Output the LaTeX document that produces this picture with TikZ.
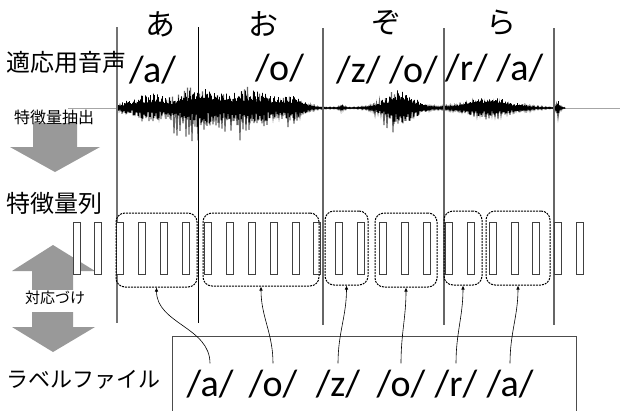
\documentclass[tikz,border=0pt]{standalone}
\usepackage{fontspec}
\setmainfont{Carlito}
\newfontfamily\jp{Noto Sans CJK JP}
\usetikzlibrary{arrows.meta}
\tikzset{
  vline/.style={draw=black!60, line width=1.2pt},
  feat/.style={draw=black!75, fill=white, line width=1pt, minimum width=7pt, minimum height=52pt, inner sep=0pt},
  grp/.style={draw=black, dash pattern=on 2pt off 1pt, line width=1pt, rounded corners=9pt, inner sep=0pt},
  bigarrow/.style={fill=black!40, draw=none},
  ph/.style={font=\fontsize{38}{38}\selectfont, inner sep=0pt, anchor=base west},
  lab/.style={font=\fontsize{38}{38}\selectfont, inner xsep=0pt, inner ysep=6pt, anchor=base},
  kana/.style={font=\jp\fontsize{30}{30}\selectfont, inner sep=0pt},
  jlab/.style={font=\jp\fontsize{#1}{#1}\selectfont, inner sep=0pt, anchor=west},
  link/.style={draw=black, line width=0.6pt, -{Latex[length=4pt,width=3.5pt]}},
  declare function={cl(\d)=min(3.5,max(-3.5,\d));
                    g(\t,\c,\w)=exp(-cl((\t-\c)/\w)*cl((\t-\c)/\w));
                    core(\t)=0.8+4*g(\t,125,6)+15*g(\t,150,20)+20*g(\t,197,22)+18*g(\t,250,35)+9*g(\t,295,12)+3*g(\t,342,3)+18*g(\t,400,20)+11*g(\t,490,30)+8*g(\t,558,2.5);
                    spk(\t)=9*g(\t,150,22)+36*g(\t,187,16)+28*g(\t,240,32)+15*g(\t,290,12)+21*g(\t,395,18)+11*g(\t,485,28)+12*g(\t,557,2);
                    pls(\t)=0.5+0.5*sin(45*mod(\t,4));}
}
\begin{document}
\begin{tikzpicture}[x=1pt,y=-1pt]
\useasboundingbox[fill=white] (0,0) rectangle (621,410);

% waveform baseline
\draw[black!35, line width=0.8pt] (68,108) -- (620,108);
% waveform spikes and core
\draw[black!60, line width=1pt] plot[domain=117:565.5, samples=300] (\x, {108+spk(\x)*(0.3+0.7*rnd)*cos(120*mod(\x-117,3))*(1+0.2*cos(120*mod(\x-117,3)))});
\draw[black, line width=0.6pt] plot[domain=117:565, samples=897] (\x, {108+core(\x)*pls(\x)*(0.5+0.5*rnd)*cos(360*mod(\x-117,1))});

% segment lines
\draw[vline, draw=black!55] (117,27) -- (117,323);
\draw[draw=black, line width=0.8pt] (198,27) -- (198,323);
\draw[vline] (323,28) -- (323,325);
\draw[vline] (444,28) -- (444,325);
\draw[vline] (554,28) -- (554,325);

% big gray arrows
\fill[bigarrow] (33,123) -- (77,123) -- (77,147) -- (100,147) -- (55,172) -- (10,147) -- (33,147) -- cycle;
\fill[bigarrow] (32,290) -- (73,290) -- (73,271) -- (95,271) -- (53,245) -- (12,271) -- (32,271) -- cycle;
\fill[bigarrow] (32,312) -- (73,312) -- (73,327) -- (95,327) -- (53,352) -- (12,327) -- (32,327) -- cycle;

% feature frames
\foreach \i in {0,...,23} {
  \node[feat] (f\i) at ({76.5+21.9*\i},248) {};
}

% groups
\node[grp, minimum width=81pt, minimum height=74pt] (g1) at (156.5,250) {};
\node[grp, minimum width=116pt, minimum height=73pt] (g2) at (261,249.5) {};
\node[grp, minimum width=43pt, minimum height=74pt] (g3) at (346.5,248) {};
\node[grp, minimum width=62pt, minimum height=74pt] (g4) at (406,250) {};
\node[grp, minimum width=38pt, minimum height=74pt] (g5) at (463,248) {};
\node[grp, minimum width=64pt, minimum height=74pt] (g6) at (518,248) {};

% label file box
\draw[draw=black!70, line width=1pt] (172,412) -- (172,336) -- (576,336) -- (576,412);

% texts on the left
\node[jlab=24] (t1) at (6,62) {適応用音声};
\node[jlab=16] (t2) at (14,117) {特徴量抽出};
\node[jlab=24] (t3) at (6,203) {特徴量列};
\node[jlab=15, fill=white, inner sep=1pt] (t4) at (24,298) {対応づけ};
\node[jlab=22] (t5) at (6,380) {ラベルファイル};

% kana
\node[kana] (k1) at (160,24) {あ};
\node[kana] (k2) at (263,24) {お};
\node[kana] (k3) at (386,23) {ぞ};
\node[kana] (k4) at (501,23) {ら};

% phoneme labels on the waveform
\node[ph] (p1) at (129,82) {/a/};
\node[ph] (p2) at (255,80) {/o/};
\node[ph] (p3) at (336,82) {/z/ /o/};
\node[ph] (p4) at (445,80) {/r/ /a/};

% label file contents
\node[lab] (l1) at (210,396) {/a/};
\node[lab] (l2) at (273,396) {/o/};
\node[lab] (l3) at (338,396) {/z/};
\node[lab] (l4) at (401,396) {/o/};
\node[lab] (l5) at (456,396) {/r/};
\node[lab] (l6) at (510,396) {/a/};

% links
\draw[link] (l1.north) to[out=90,in=-90] (g1.south);
\draw[link] (l2.north) to[out=90,in=-90] (g2.south);
\draw[link] (l3.north) to[out=90,in=-90] (g3.south);
\draw[link] (l4.north) to[out=90,in=-90] (g4.south);
\draw[link] (l5.north) to[out=90,in=-90] (g5.south);
\draw[link] (l6.north) to[out=90,in=-90] (g6.south);
\end{tikzpicture}
\end{document}
